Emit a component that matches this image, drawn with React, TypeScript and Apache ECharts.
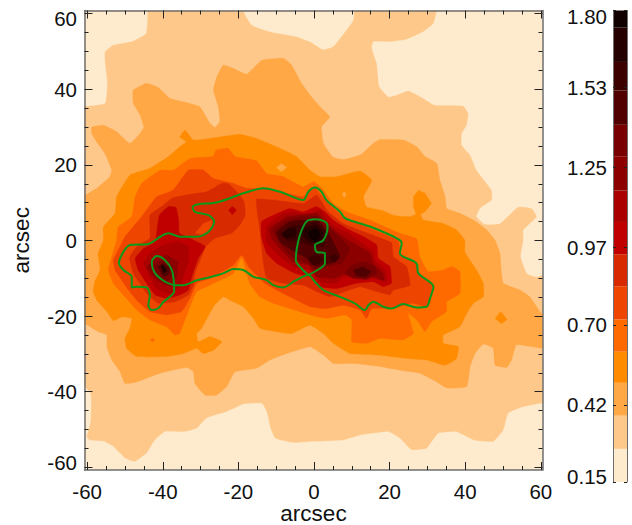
import React, { useEffect, useRef } from "react";
import * as echarts from "echarts";

type P = [number, number];

const levels = [0.15, 0.266, 0.382, 0.497, 0.606, 0.719, 0.835, 0.947, 1.06, 1.17, 1.29, 1.4, 1.52, 1.62, 1.74, 1.8];
const bandColors = ["#FEEBCD", "#FEC88A", "#FFA845", "#FF8C00", "#FF6A00", "#EE4500", "#D82A00", "#C00000", "#AA0000", "#8C0000", "#780000", "#500000", "#3C0000", "#240000", "#100000"];
const barTicks = [0.15, 0.42, 0.7, 0.97, 1.25, 1.53, 1.8];
const axisMajor = [-60, -40, -20, 0, 20, 40, 60];
const axisMinor = [-55, -50, -45, -35, -30, -25, -15, -10, -5, 5, 10, 15, 25, 30, 35, 45, 50, 55];

const whole: P[] = [[-62, -62], [62, -62], [62, 62], [-62, 62]];
const paleTopLeft: P[] = [[-62, 62], [-44.4, 62], [-44.4, 54.8], [-47.8, 52.8], [-53.1, 51.7], [-55.3, 49.9], [-55.3, 47.3], [-54.7, 41.6], [-55.3, 36.3], [-62, 35.8]];
const paleTopMid: P[] = [[-18.7, 62], [-18.7, 60.7], [-16.5, 57], [-11.6, 55.2], [-4.6, 53.9], [-1.06, 52.6], [2.5, 50.5], [5.1, 51.3], [8.6, 55.7], [10.4, 58.3], [10.4, 62]];
const paleRight: P[] = [[32.5, 62], [32.5, 60.7], [31.6, 57.4], [28.9, 55.2], [24.5, 53.2], [20.1, 52.6], [15.7, 52.6], [15.3, 50.8], [16.6, 46.8], [17.3, 40.7], [19.7, 38], [21.9, 38.5], [25, 39.6], [28.9, 37.6], [32, 35.8], [39.5, 35.6], [40.8, 33.6], [40.4, 30.5], [39.1, 28.3], [39.1, 25.2], [41.3, 22.6], [43, 18.6], [47, 13.3], [47, 10.7], [43.9, 8.5], [43, 6.3], [45.2, 4.3], [49.2, 4.5], [54, 8.9], [57.6, 8.5], [58.9, 6.3], [55.4, 2.8], [55.4, 0.1], [54.7, -4.3], [56.3, -8.7], [58.9, -9.6], [62, -8.2], [62, 62]];
const paleBottom: P[] = [[-62, -37.8], [-59.1, -40.4], [-59.1, -47.9], [-60.1, -51.9], [-59.3, -52.8], [-55.7, -53.1], [-53.1, -54.5], [-50, -57.6], [-47.4, -58.5], [-44.3, -56.3], [-42.1, -52.8], [-39.4, -50.6], [-34.6, -50.6], [-31, -49.7], [-28.4, -47], [-23.1, -45.3], [-18.7, -43.3], [-13.8, -43.1], [-12.5, -45.3], [-11.6, -49.3], [-10.3, -52.3], [-5.5, -53.5], [-1.06, -53.2], [7.8, -52.8], [12.2, -51.5], [19.7, -50.6], [22.7, -52.3], [25.8, -55.4], [29.8, -55], [32.9, -51], [37.7, -50.6], [42.2, -52.8], [47.4, -53.2], [50.1, -50.1], [51.4, -45.7], [55.4, -44], [62, -43.1], [62, -62], [-62, -62]];

const band2Main: P[] = [[-62, 10.7], [-57.5, 13.8], [-54, 16.9], [-53.5, 18.6], [-55.3, 23], [-57.5, 26.1], [-58.8, 28.3], [-58.8, 30], [-55.7, 30.5], [-52.2, 28.8], [-48.7, 25.7], [-46, 28.3], [-45, 30], [-46, 33.2], [-47.8, 36.3], [-47.8, 39.8], [-44.3, 41.6], [-41.2, 40.5], [-38.1, 37.6], [-34.6, 36.7], [-30.2, 35.4], [-27.5, 31], [-26.2, 29.9], [-24.9, 31.4], [-25.3, 35.4], [-26.6, 39.8], [-25.7, 43.3], [-24, 46.4], [-21.3, 45.5], [-17.8, 44], [-13.8, 47.7], [-8.1, 48.2], [-5.9, 46.4], [-3.3, 41.6], [-1.06, 38.5], [1.6, 35.4], [4.2, 32.7], [2, 30.1], [2.5, 25.7], [5.1, 22], [7.8, 21.4], [12.2, 22.6], [15.7, 25.7], [17.5, 26.7], [23.6, 26.6], [27.2, 24.8], [29.4, 22.2], [32.5, 20.4], [33.3, 16], [34.7, 11.6], [35.1, 8.5], [38.6, 7.2], [42.2, 5.4], [45.7, 2.8], [47.9, 0.1], [49.2, -3.4], [49.6, -8.7], [50.1, -11.3], [54.5, -13.1], [57.1, -14.9], [60.2, -19.3], [62, -19.3], [62, -28.5], [53.6, -27.6], [52.3, -31.6], [51, -33.6], [47.9, -33], [47.4, -28.5], [44.8, -27.4], [42.6, -29.9], [41.3, -33.4], [40.4, -38.7], [35.1, -39], [32.5, -37.4], [28, -35.1], [22.7, -34.3], [16.6, -33.2], [10.4, -32.5], [5.1, -32.5], [2.5, -30.3], [-1.06, -28.1], [-7.2, -29.9], [-11.6, -31.6], [-15.2, -33.8], [-20.9, -34.7], [-23.1, -38.7], [-25.8, -40.9], [-28.8, -40.9], [-31.5, -37.8], [-31.9, -34.7], [-33.7, -33.6], [-40.7, -35.1], [-46.9, -37.4], [-50, -37.8], [-51.3, -34.7], [-53.5, -31.6], [-54.8, -28.1], [-54.8, -25], [-57.1, -24.1], [-60.6, -22], [-62, -22]];

const band3Main: P[] = [[-55.7, 0.1], [-55.7, 3.6], [-52.6, 7.2], [-52.2, 11.6], [-48.7, 17.3], [-43.4, 19.1], [-38.5, 22.2], [-35.5, 24.8], [-33.7, 26.1], [-35.5, 27.4], [-34.1, 29.2], [-31.9, 26.6], [-27.5, 27], [-19.6, 28.1], [-15.2, 27], [-9.9, 24.8], [-4.6, 22.2], [-1.06, 18.6], [1.6, 16.9], [6, 16.9], [12.2, 18.4], [15.3, 16], [13.1, 11.6], [13.9, 8.9], [17.9, 8], [21, 6.7], [25.4, 6.3], [28, 7.2], [28.9, 5.4], [34.2, 4.5], [37.7, 2.8], [39.9, 0.1], [39.9, -3], [43, -7.8], [44.8, -11.3], [44.8, -14.9], [42.2, -16.6], [40.4, -19.3], [38.6, -22.8], [34.2, -25], [34.2, -27.2], [38.2, -28.1], [37.7, -31.2], [34.7, -33], [29.8, -31.6], [24.5, -31.2], [16.6, -30.3], [9.5, -29.9], [5.1, -27.2], [2.5, -24.6], [-1.06, -22.4], [-5.9, -24.6], [-9.9, -24.1], [-14.3, -23.2], [-16, -20.6], [-18.7, -17.5], [-22.2, -15.8], [-24, -14.9], [-26.6, -17.5], [-29.7, -23.2], [-31, -24.6], [-30.6, -26.8], [-27.5, -25.4], [-24.4, -26.8], [-26.6, -29], [-29.3, -29.9], [-31, -28.5], [-34.6, -29.9], [-39, -30.7], [-46.9, -30.7], [-49.6, -28.5], [-50, -25.9], [-48.7, -23.2], [-48.2, -20.6], [-50.9, -20.2], [-53.1, -21.2], [-54.8, -18.8], [-57.5, -15.7], [-58.4, -13.5], [-58, -10.9], [-56.6, -7.8], [-57.1, -3.4]];
const band3IslandNorth: P[] = [[26.3, 11.6], [27.6, 13.3], [29.4, 12.5], [31.1, 9.8], [29.4, 7.6], [27.2, 6.5], [26.3, 8.9]];
const band3IslandEast: P[] = [[47.9, -20.6], [49.4, -18.8], [51.1, -20.9], [49.6, -22]];
const band2SpotA: P[] = [[-9.9, 19.3], [-8.6, 20.4], [-7.2, 19.3], [-8.6, 18.2]];
const band2SpotB: P[] = [[7.5, 12.2], [8, 13], [8.5, 12.2], [8, 11.4]];

const band4Main: P[] = [[-52.2, 0.1], [-51.8, 3.6], [-48.2, 6.3], [-47.3, 11.6], [-45.6, 15.1], [-40.7, 18.6], [-37.2, 18.6], [-32.8, 21.7], [-26.6, 22.3], [-26, 23.9], [-22.7, 24.4], [-20.9, 22.2], [-15.2, 21.1], [-12.5, 17.7], [-8.1, 16.9], [-2.8, 14.2], [0, 15.6], [2.5, 13.4], [5.1, 9.8], [8.6, 7.6], [14.8, 5.4], [22.7, 1.9], [27.2, 0.4], [28, -4.3], [30.2, -8.2], [34.2, -7.8], [36.4, -6.9], [38.6, -8.2], [38.6, -14], [35.1, -16.2], [35.1, -18.8], [31.1, -21.5], [29.4, -24.1], [27.2, -21], [24.9, -19.3], [26.3, -24.6], [23.6, -26.3], [17.5, -25.9], [13.9, -27.2], [10, -26.8], [10, -21], [8.2, -19.7], [3.4, -20.6], [-1.06, -19.7], [-6.4, -18], [-10.8, -16.6], [-14.3, -14.9], [-17, -11.3], [-19.1, -4.5], [-21.3, -8.7], [-27.5, -11.8], [-31, -13.5], [-32.8, -17.5], [-35.5, -24.6], [-36.8, -25], [-39, -22.8], [-43.4, -21], [-46.9, -18.4], [-50, -14.9], [-53.1, -11.3], [-54.4, -7.8], [-53.5, -4.3]];
const band4Spot: P[] = [[-43.4, -26.3], [-42.7, -25.8], [-42, -26.3], [-42.7, -26.8]];

const band5Main: P[] = [[-51.3, -1.6], [-50, 1], [-45.6, 6.3], [-41.6, 11.6], [-37.2, 13.4], [-33.2, 18.65], [-29.3, 18.65], [-26.6, 16.4], [-21.3, 15.1], [-17.8, 13.8], [-13.4, 13.8], [-9, 12.9], [-2.8, 11.6], [0.25, 13.8], [3.3, 10.3], [7.7, 6.3], [14.8, 3.2], [22.3, 0], [22.9, -3.4], [26.7, -6], [28, -8.7], [31.6, -11.8], [30.2, -17.5], [25.8, -16.6], [21, -18], [15.3, -18], [13.9, -20.6], [12.2, -18.4], [7.8, -17.1], [3.3, -18], [-1.06, -17.5], [-6.4, -14.9], [-9.9, -13.1], [-13, -11.3], [-15.2, -9.1], [-17, -7.4], [-19.1, -3.8], [-21.3, -6.5], [-27.5, -10], [-31, -11.3], [-32.8, -15.3], [-35, -18.8], [-39, -19.7], [-43.4, -18.8], [-46.9, -15.8], [-50, -11.8], [-52.6, -7.8], [-53.1, -5.2]];

const band6West: P[] = [[-48.8, -4.5], [-46.5, -1.2], [-43.4, 0.6], [-43.4, 6.7], [-40.3, 9], [-37.6, 11.2], [-34.1, 12], [-28.4, 12.9], [-24.4, 15.1], [-22.6, 15], [-20.4, 12.9], [-18.5, 10.3], [-18.2, 6.7], [-19.6, 4.1], [-21.8, 1.9], [-26.2, 0.6], [-28.6, -1.6], [-30.1, -5.2], [-31.5, -8.7], [-31.9, -11.8], [-33.2, -14.4], [-36.8, -16.2], [-41.2, -16.6], [-44.3, -14], [-46, -11.3], [-47.8, -8.7]];
const band5Patch: P[] = [[-31.5, 1.9], [-29.3, 4.5], [-27, 5.4], [-27, 3.2], [-29.3, 1.5]];
const band6East: P[] = [[-15.2, 10.9], [-9, 10.5], [-2.8, 9.8], [0.7, 12], [3.8, 7.6], [7.7, 4.5], [14.8, 1.7], [20.5, -0.6], [21, -4.3], [24.5, -6.9], [25.4, -11.8], [21, -13.1], [20.1, -14.4], [16.6, -13.5], [12.2, -12.2], [8.2, -13.5], [4.2, -14.9], [0.7, -13.5], [-2.8, -11.8], [-8.1, -11.3], [-12.5, -10], [-13.4, -6], [-14.3, 2.8]];

const band7West: P[] = [[-47.3, -4.7], [-45.1, -2.1], [-42, -0.3], [-41.4, 3.7], [-40.9, 6.7], [-38.5, 9], [-36.5, 8.8], [-35.8, 5.4], [-35.6, 1.9], [-32.8, 0.6], [-28.8, -1.6], [-30.6, -4.7], [-32.3, -9.6], [-33.2, -13.1], [-35.4, -14.4], [-39, -15.3], [-42, -14.4], [-44.3, -11.3], [-46.5, -7.8]];
const band7Spot: P[] = [[-22.6, 8.1], [-21.6, 9.1], [-20.5, 8.1], [-21.6, 6.8]];
const band7East: P[] = [[-13.9, 5], [-10.8, 6.7], [-6.4, 8.5], [-2.8, 7.6], [0.7, 9], [2.9, 7.6], [5.1, 5.4], [8.6, 3.2], [12.2, 1.5], [16.6, -1.2], [17, -4.7], [20.1, -6.9], [20.5, -11.3], [18.3, -12.2], [15.7, -10.9], [11.3, -11.3], [6, -12.7], [1.6, -12.2], [-1.1, -9.6], [-5, -8.7], [-9.9, -6], [-12.5, -3.4], [-13.9, 1]];

const band8West: P[] = [[-45.1, -6], [-43.4, -3.4], [-39.8, -1.2], [-35.9, -0.3], [-33.2, -1.6], [-33.2, -5.6], [-34.6, -9.6], [-35.4, -12.2], [-38.1, -14], [-41.6, -12.7], [-43.4, -9.6]];
const band8East: P[] = [[-12.5, 3.7], [-8.1, 7.2], [-4.6, 7.6], [-2, 6.3], [1.6, 8.1], [4.7, 4.1], [9.1, 1.9], [12.2, -0.3], [15.7, -3], [16.1, -5.2], [18.8, -7.8], [19.2, -10.9], [15.7, -10], [11.3, -10], [7.7, -9.6], [6, -11.3], [1.6, -10.9], [-1.1, -7.8], [-5.5, -6.9], [-9.9, -3.4], [-12.5, -0.4]];

const band9West: P[] = [[-44.3, -6.9], [-42, -4.7], [-39, -3.8], [-35.9, -5.6], [-36.3, -9.6], [-37.6, -12.2], [-40.3, -11.3], [-42.5, -9.6]];
const band9East: P[] = [[-11.7, 3.2], [-7.2, 6.3], [-4.6, 6.7], [0.7, 7.2], [4.2, 3.7], [7.7, 1], [11.3, -1.2], [14.8, -3.4], [15.7, -6], [18.3, -8.7], [18.5, -10.6], [15.7, -9.6], [11.3, -9.4], [7.7, -8.9], [5.5, -10], [0.7, -9.6], [-1.5, -6.5], [-5.5, -5.6], [-9, -2.1], [-11.2, 0.6]];

const band10West: P[] = [[-42.5, -6.9], [-40.3, -5.2], [-37.6, -6.5], [-37.2, -8.7], [-39, -10.9], [-41.2, -9.6]];
const band10East: P[] = [[-10.8, 2.8], [-7.2, 5.4], [-3.7, 6.3], [1.1, 6.3], [3.8, 3.7], [6.9, 0.6], [9.5, -2.1], [7.3, -6], [3.3, -6.9], [0.7, -8.2], [-1.5, -6], [-5.5, -4.7], [-9, -0.8]];
const band10South: P[] = [[8.2, -8.7], [10, -6.5], [13.5, -5.6], [16.1, -6.9], [16.6, -8.7], [13.9, -10.3], [10.4, -10]];

const band11West: P[] = [[-41.2, -6.9], [-39.8, -6], [-38.1, -7.4], [-38.5, -9.1], [-39.8, -9.6]];
const band11East: P[] = [[-9.9, 2.3], [-6.4, 5], [-3.3, 5.4], [1.1, 5.4], [3.8, 1.9], [5.5, -1.2], [6.9, -4.3], [4.7, -6], [2.5, -6.5], [0.3, -6.9], [-1.9, -4.7], [-5.9, -2.5], [-9, -0.3]];
const band11South: P[] = [[10.4, -7.8], [13, -6.9], [15.2, -8.2], [13.9, -9.6], [11.3, -9.4]];

const band12Main: P[] = [[-8.6, 1.9], [-5.5, 4.1], [-2.8, 4.1], [0.7, 5], [3.3, 1.9], [2.5, -1.6], [-1.1, -1.2], [-3.7, -0.3], [-7.2, 0.1]];
const band12LowA: P[] = [[-1.5, -4.7], [0.3, -3.4], [2.5, -4.7], [1.6, -6.2], [-0.6, -6.5]];
const band12LowB: P[] = [[4, -4.5], [5.3, -3.6], [6.7, -4.7], [5.3, -5.9]];

const band13Core: P[] = [[-2.8, 3.2], [0.7, 4.1], [2.5, 1.9], [1.6, -0.7], [-1.1, -0.3], [-3.3, 1.5]];
const band13Left: P[] = [[-8.6, 1.5], [-6.8, 3.2], [-4.6, 3.2], [-5, 1], [-7.2, 0.6]];
const band13West: P[] = [[-40.5, -6.5], [-39.4, -6.9], [-39, -8.2], [-39.8, -8.7]];
const band14Core: P[] = [[-1.5, 2.3], [0.7, 3.2], [1.7, 1.5], [0.7, -0.3], [-1.1, 0.6]];

const contourOuter: P[] = [[-14.3, -10], [-16, -9.6], [-18.7, -7.8], [-21.3, -7.5], [-24, -8.7], [-27.5, -9.7], [-31, -10.5], [-34.6, -11.8], [-37, -11.8], [-37, -13.5], [-39.8, -16.2], [-41.2, -17.9], [-42.9, -18.4], [-43.8, -17.1], [-43.4, -14.4], [-44.3, -12.4], [-46.9, -12.2], [-48.2, -12.4], [-48.2, -9.6], [-50.4, -7.8], [-51.6, -6], [-50.4, -3], [-48.7, -1.2], [-43.8, -0.9], [-40.7, 1], [-38.5, 1.9], [-35.4, 1], [-31, 1], [-27.9, 2.3], [-26.4, 5], [-27.9, 6.7], [-31.5, 7.6], [-32.1, 8.8], [-30.6, 9.6], [-26.2, 10], [-22.2, 11.2], [-18.7, 12.5], [-13.4, 13.8], [-9, 12.9], [-2.8, 10.7], [-1.5, 12.9], [0.25, 14], [2, 12.9], [3.3, 10.7], [6.9, 7.6], [8.2, 5.9], [14.8, 3.7], [22.3, 0.4], [23.2, -0.75], [22.7, -3.4], [27.1, -6], [27.6, -8.7], [31.6, -12.2], [30.7, -15.3], [29.8, -17.5], [27.1, -17.7], [23.6, -16.8], [20.5, -18], [18.3, -17.5], [15.7, -16.2], [14.4, -17.1], [13.5, -18.4], [10.8, -16.6], [6.9, -14.9], [2.5, -13.1], [0.25, -10.9], [-1.5, -9.1], [-5, -10.6], [-8.1, -12.4], [-10.8, -11.8], [-12.5, -10.5], [-14.3, -10]];
const contourEast: P[] = [[-1.5, -9.1], [1.6, -7.4], [2.9, -6.1], [2.9, -3.4], [0.7, -3], [0.25, -1.2], [2.5, 0.1], [3.6, 3.7], [2.9, 5], [0.25, 5.6], [-2, 5], [-3.7, 1.5], [-4.6, -2.5], [-4.8, -5.2], [-3.3, -7.4], [-1.5, -9.1]];
const contourWest: P[] = [[-37, -11.8], [-37.6, -7.8], [-39.4, -5.2], [-41.6, -4.1], [-42.9, -5.6], [-42, -8.7], [-39.4, -10.9], [-37, -11.8]];

const regions: { band: number; pts: P[] }[] = [
  { band: 1, pts: whole },
  { band: 0, pts: paleTopLeft }, { band: 0, pts: paleTopMid }, { band: 0, pts: paleRight }, { band: 0, pts: paleBottom },
  { band: 2, pts: band2Main },
  { band: 3, pts: band3Main }, { band: 3, pts: band3IslandNorth }, { band: 3, pts: band3IslandEast },
  { band: 2, pts: band2SpotA }, { band: 2, pts: band2SpotB },
  { band: 4, pts: band4Main }, { band: 4, pts: band4Spot },
  { band: 5, pts: band5Main },
  { band: 6, pts: band6West }, { band: 5, pts: band5Patch }, { band: 6, pts: band6East },
  { band: 7, pts: band7West }, { band: 7, pts: band7Spot }, { band: 7, pts: band7East },
  { band: 8, pts: band8West }, { band: 8, pts: band8East },
  { band: 9, pts: band9West }, { band: 9, pts: band9East },
  { band: 10, pts: band10West }, { band: 10, pts: band10East }, { band: 10, pts: band10South },
  { band: 11, pts: band11West }, { band: 11, pts: band11East }, { band: 11, pts: band11South },
  { band: 12, pts: band12Main }, { band: 12, pts: band12LowA }, { band: 12, pts: band12LowB },
  { band: 13, pts: band13Core }, { band: 13, pts: band13Left }, { band: 13, pts: band13West },
  { band: 14, pts: band14Core },
];

const FONT = "'Liberation Sans', Arial, sans-serif";
const FRAME = "#6e6e6e";
const TICK = "#222";
const LABEL_SIZE = 20.5;
const NAME_SIZE = 22.5;
const XMIN = -60.7, XMAX = 60.45, YMIN = -60.7, YMAX = 60.85;

function ticked(kind: "x" | "y", position: string, major: boolean, labelled: boolean, extra: any = {}) {
  const vals = major ? axisMajor : axisMinor;
  const inward = kind === "y" ? { lineHeight: 9, verticalAlignMinLabel: "bottom", verticalAlignMaxLabel: "top" } : {};
  return {
    type: "value",
    gridIndex: 0,
    position,
    z: 10,
    min: kind === "x" ? XMIN : YMIN,
    max: kind === "x" ? XMAX : YMAX,
    splitLine: { show: false },
    axisLine: { show: major, onZero: false, lineStyle: { color: FRAME, width: 1.5 } },
    axisTick: { show: true, inside: true, customValues: vals, length: major ? 8 : 4, lineStyle: { color: TICK, width: 1 } },
    axisLabel: labelled
      ? { show: true, customValues: axisMajor, color: "#111", fontFamily: FONT, fontSize: LABEL_SIZE, margin: kind === "x" ? 11 : 7.5, ...inward }
      : { show: false },
    ...extra,
  };
}

export default function App() {
  const ref = useRef<HTMLDivElement>(null);
  useEffect(() => {
    if (!ref.current) return;
    const chart = echarts.init(ref.current, undefined, { renderer: "svg" });
    const bands = levels.slice(0, -1).map((lo, i) => [lo, levels[i + 1], i]);
    chart.setOption({
      animation: false,
      backgroundColor: "#fff",
      tooltip: { show: false },
      grid: [
        { left: 84.5, top: 10.5, width: 458, height: 459.5, outerBoundsMode: "none" },
        { left: 613, top: 10.5, width: 14, height: 471.5, outerBoundsMode: "none" },
      ],
      xAxis: [
        ticked("x", "bottom", true, true, {
          name: "arcsec", nameLocation: "middle", nameGap: 32, nameMoveOverlap: false,
          nameTextStyle: { color: "#111", fontFamily: FONT, fontSize: NAME_SIZE },
        }),
        ticked("x", "bottom", false, false),
        ticked("x", "top", true, false),
        ticked("x", "top", false, false),
        { type: "value", gridIndex: 1, min: 0, max: 1, axisLine: { show: false }, axisTick: { show: false }, axisLabel: { show: false }, splitLine: { show: false } },
      ],
      yAxis: [
        ticked("y", "left", true, true, {
          name: "arcsec", nameLocation: "middle", nameGap: 52, nameMoveOverlap: false,
          nameTextStyle: { color: "#111", fontFamily: FONT, fontSize: NAME_SIZE },
        }),
        ticked("y", "left", false, false),
        ticked("y", "right", true, false),
        ticked("y", "right", false, false),
        {
          type: "value", gridIndex: 1, position: "left", z: 10, min: 0.15, max: 1.8,
          splitLine: { show: false },
          axisLine: { show: true, onZero: false, lineStyle: { color: FRAME, width: 1 } },
          axisTick: { show: true, inside: true, customValues: barTicks, length: 3, lineStyle: { color: TICK } },
          axisLabel: {
            show: true, customValues: barTicks, color: "#111", fontFamily: FONT, fontSize: LABEL_SIZE, margin: 6,
            lineHeight: 12,
            formatter: (v: number) => v.toFixed(2),
            verticalAlignMinLabel: "bottom", verticalAlignMaxLabel: "top",
          },
        },
        {
          type: "value", gridIndex: 1, position: "right", z: 10, min: 0.15, max: 1.8,
          splitLine: { show: false },
          axisLine: { show: true, onZero: false, lineStyle: { color: FRAME, width: 1 } },
          axisTick: { show: true, inside: true, customValues: barTicks, length: 3, lineStyle: { color: TICK } },
          axisLabel: { show: false },
        },
      ],
      series: [
        {
          type: "custom", xAxisIndex: 0, yAxisIndex: 0, silent: true, clip: true, z: 1,
          data: regions.map((_, i) => [i]),
          encode: { x: 0 },
          renderItem: (params: any, api: any) => {
            const r = regions[params.dataIndex];
            return {
              type: "polygon",
              shape: { points: r.pts.map((p) => api.coord(p)), smooth: r.pts.length > 8 ? 0.12 : 0 },
              style: { fill: bandColors[r.band], stroke: bandColors[r.band], lineWidth: 0.3 },
            };
          },
        },
        ...[contourOuter, contourEast, contourWest].map((pts) => ({
          type: "line", xAxisIndex: 0, yAxisIndex: 0, data: pts, showSymbol: false, silent: true, z: 3,
          smooth: 0.3, lineStyle: { color: "#0B9A1C", width: 2 },
        })),
        {
          type: "custom", xAxisIndex: 4, yAxisIndex: 4, silent: true, z: 1,
          data: bands,
          encode: { y: [0, 1] },
          renderItem: (params: any, api: any) => {
            const lo = api.coord([0, api.value(0)]);
            const hi = api.coord([1, api.value(1)]);
            return {
              type: "rect",
              shape: { x: lo[0], y: hi[1], width: hi[0] - lo[0], height: lo[1] - hi[1] },
              style: { fill: bandColors[api.value(2)] },
            };
          },
        },
      ],
    });
    return () => chart.dispose();
  }, []);
  return <div ref={ref} style={{ position: "absolute", left: 0, top: 0, width: 632, height: 525 }} />;
}
